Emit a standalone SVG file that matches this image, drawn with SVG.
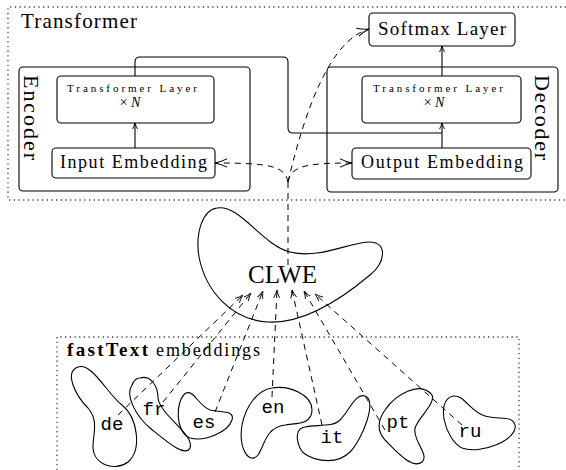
<svg xmlns="http://www.w3.org/2000/svg" width="566" height="470" viewBox="0 0 566 470">
<style>
.serif{font-family:"Liberation Serif",serif;fill:#000}
.mono{font-family:"Liberation Mono",monospace;font-size:19px;fill:#000;text-anchor:middle}
.box{fill:#fff;stroke:#000;stroke-width:1.1}
.dot{fill:none;stroke:#444;stroke-width:1.3;stroke-dasharray:1.3 3.4}
.blob{fill:none;stroke:#000;stroke-width:1.1}
.solid{fill:none;stroke:#000;stroke-width:1.1}
.dash{fill:none;stroke:#000;stroke-width:1;stroke-dasharray:6 5}
</style>
<defs>
<marker id="ah" viewBox="0 0 6 6" refX="6" refY="3" markerWidth="6" markerHeight="6" markerUnits="userSpaceOnUse" orient="auto"><path d="M0,0.5 Q3,2.2 6,3 Q3,3.8 0,5.5" fill="none" stroke="#000" stroke-width="0.9"/></marker>
<marker id="ahd" viewBox="0 0 12 10" refX="12" refY="5" markerWidth="12" markerHeight="10" markerUnits="userSpaceOnUse" orient="auto"><path d="M0,0.8 Q6,3.8 12,5 Q6,6.2 0,9.2" fill="none" stroke="#000" stroke-width="1"/></marker>
<marker id="ahs" viewBox="0 0 8 7" refX="8" refY="3.5" markerWidth="8" markerHeight="7" markerUnits="userSpaceOnUse" orient="auto"><path d="M0,0.5 Q4,2.6 8,3.5 Q4,4.4 0,6.5" fill="none" stroke="#000" stroke-width="0.9"/></marker>
</defs>

<g id="transformer-frame">
<path class="dot" d="M566,7 H8 V200 H566"/>
<text class="serif" x="21" y="28" font-size="21" textLength="116" lengthAdjust="spacing">Transformer</text>
</g>

<g id="encoder">
<rect class="box" x="19" y="67" width="231" height="124" rx="4"/>
<text class="serif" font-size="22" transform="translate(24,75) rotate(90)" textLength="85" lengthAdjust="spacing">Encoder</text>
</g>
<g id="decoder">
<rect class="box" x="327" y="67" width="231" height="125" rx="4"/>
<text class="serif" font-size="22" transform="translate(535,75) rotate(90)" textLength="85" lengthAdjust="spacing">Decoder</text>
</g>

<g id="enc-layer">
<rect class="box" x="57" y="76" width="157" height="47" rx="4"/>
<text class="serif" x="132" y="92" font-size="11" text-anchor="middle" textLength="130" lengthAdjust="spacing">Transformer Layer</text>
<text class="serif" x="130" y="107" font-size="14" text-anchor="middle">× <tspan font-style="italic">N</tspan></text>
</g>
<g id="input-embedding">
<rect class="box" x="52" y="148" width="163" height="30" rx="4"/>
<text class="serif" x="133.5" y="168" font-size="18" text-anchor="middle" textLength="147" lengthAdjust="spacing">Input Embedding</text>
</g>
<g id="dec-layer">
<rect class="box" x="362" y="76" width="159" height="47" rx="4"/>
<text class="serif" x="438" y="92" font-size="11" text-anchor="middle" textLength="130" lengthAdjust="spacing">Transformer Layer</text>
<text class="serif" x="434" y="107" font-size="14" text-anchor="middle">× <tspan font-style="italic">N</tspan></text>
</g>
<g id="output-embedding">
<rect class="box" x="352" y="148" width="179" height="31" rx="4"/>
<text class="serif" x="442" y="168" font-size="18" text-anchor="middle" textLength="162" lengthAdjust="spacing">Output Embedding</text>
</g>
<g id="softmax">
<rect class="box" x="369" y="13" width="146" height="33" rx="4"/>
<text class="serif" x="442" y="35" font-size="19" text-anchor="middle" textLength="128" lengthAdjust="spacing">Softmax Layer</text>
</g>

<g id="clwe">
<path class="blob" d="M217,208 C240,204 262,245 290,252 C318,259 345,244 368,242 C388,241 386,262 370,275 C345,296 305,324 268,322 C232,320 206,292 199,257 C195,232 203,210 217,208 Z"/>
<text class="serif" x="282.5" y="283" font-size="25" text-anchor="middle" textLength="69" lengthAdjust="spacing">CLWE</text>
</g>

<g id="fasttext-frame">
<path class="dot" d="M57,470 V337 H519 V470"/>
<text class="serif" x="67" y="356" font-size="19" font-weight="bold" textLength="81" lengthAdjust="spacing">fastText</text>
<text class="serif" x="156" y="356" font-size="18" textLength="104" lengthAdjust="spacing">embeddings</text>
</g>

<g id="de"><path class="blob" d="M78,367 C92,362 108,395 122,405 C138,418 142,450 128,462 C115,472 92,465 93,445 C94,430 98,420 88,408 C75,395 64,372 78,367 Z"/><text class="mono" x="112" y="430">de</text></g>
<g id="fr"><path class="blob" d="M140,378 C150,375 158,385 158,398 C160,415 195,435 190,448 C185,458 165,440 150,428 C135,415 125,395 132,385 C134,380 137,378 140,378 Z"/><text class="mono" x="154" y="415">fr</text></g>
<g id="es"><path class="blob" d="M186,393 C194,390 198,405 210,410 C222,413 235,410 232,420 C228,432 205,442 190,438 C175,433 175,400 186,393 Z"/><text class="mono" x="204" y="428">es</text></g>
<g id="en"><path class="blob" d="M272,388 C290,385 312,395 312,410 C312,425 295,423 285,425 C265,428 265,445 258,455 C250,465 238,450 242,425 C246,405 258,390 272,388 Z"/><text class="mono" x="273" y="413">en</text></g>
<g id="it"><path class="blob" d="M305,427 C315,424 332,428 340,420 C350,410 355,393 365,396 C378,400 362,440 350,452 C335,467 305,460 300,448 C295,437 297,428 305,427 Z"/><text class="mono" x="332" y="443">it</text></g>
<g id="pt"><path class="blob" d="M385,410 C395,395 420,380 432,395 C436,403 418,418 415,428 C412,440 430,455 422,462 C412,470 395,450 385,440 C376,430 378,420 385,410 Z"/><text class="mono" x="398" y="428">pt</text></g>
<g id="ru"><path class="blob" d="M453,396 C465,395 470,412 485,416 C500,420 512,415 515,425 C518,440 480,455 462,448 C445,440 435,400 453,396 Z"/><text class="mono" x="470" y="437">ru</text></g>

<g id="connectors">
<path class="solid" d="M135,148 V123" marker-end="url(#ah)"/>
<path class="solid" d="M442,148 V123" marker-end="url(#ah)"/>
<path class="solid" d="M442,76 V46" marker-end="url(#ah)"/>
<path class="solid" d="M135,76 V62 Q135,57 140,57 H283 Q288,57 288,62 V128 Q288,133 293,133 H442"/>
<path class="dash" d="M288,265 V182"/>
<path class="dash" d="M288,182 C285,166 270,163 215,163" marker-end="url(#ahd)"/>
<path class="dash" d="M288,182 C291,166 306,163 352,163" marker-end="url(#ahd)"/>
<path class="dash" d="M288,182 C305,110 330,40 369,29" marker-end="url(#ahd)"/>
<path class="dash" d="M118,415 L243,295" marker-end="url(#ahs)"/>
<path class="dash" d="M163,402 L251,293" marker-end="url(#ahs)"/>
<path class="dash" d="M215,412 L263,291" marker-end="url(#ahs)"/>
<path class="dash" d="M272,397 L277,290" marker-end="url(#ahs)"/>
<path class="dash" d="M322,425 L292,290" marker-end="url(#ahs)"/>
<path class="dash" d="M385,430 L304,291" marker-end="url(#ahs)"/>
<path class="dash" d="M462,425 L315,294" marker-end="url(#ahs)"/>
</g>
</svg>
